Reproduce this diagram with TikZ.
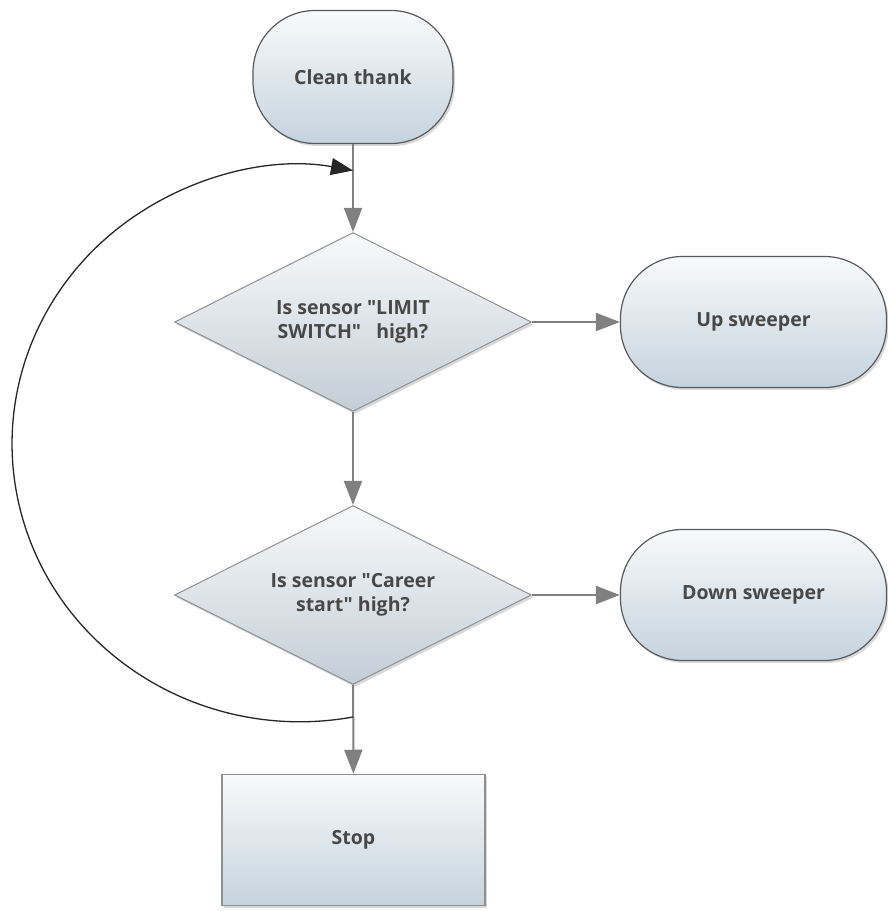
\documentclass[tikz,border=0pt]{standalone}
\usepackage{fontspec}
\setmainfont{Open Sans}[Ligatures=TeXOff]
\usetikzlibrary{positioning,arrows.meta,shapes.geometric,shadows}
\definecolor{flowGrey}{HTML}{808080}
\definecolor{labelGrey}{HTML}{484848}
\definecolor{termEdge}{HTML}{595959}
\definecolor{shapeEdge}{HTML}{8f8f8f}
\definecolor{paleTop}{HTML}{f8fafb}
\definecolor{steelBottom}{HTML}{c5d3de}
\definecolor{greyBottom}{HTML}{c3cdd6}

\tikzset{
  boxText/.style={font=\bfseries\fontsize{19.5}{24}\selectfont,text=labelGrey,align=center},
  softShadow/.style={drop shadow={shadow xshift=2pt,shadow yshift=-2.5pt,opacity=0.3}},
  termBox/.style={boxText,softShadow,draw=termEdge,line width=1.2pt,rounded corners=62pt,
    top color=paleTop,bottom color=steelBottom,minimum width=200pt,minimum height=133pt},
  sideBox/.style={termBox,minimum width=266pt,minimum height=131pt},
  decisionBox/.style={boxText,softShadow,diamond,aspect=2,draw=shapeEdge,line width=1pt,inner sep=0pt,
    top color=paleTop,bottom color=greyBottom,minimum width=357pt,minimum height=179pt},
  stopBox/.style={boxText,softShadow,draw=shapeEdge,line width=1.5pt,
    top color=paleTop,bottom color=steelBottom,minimum width=263pt,minimum height=131pt},
  flowArrow/.style={draw=flowGrey,line width=2pt,-{Triangle[length=24pt,width=18pt]}},
  loopArrow/.style={draw=black!85,line width=1.3pt,-{Triangle[length=22pt,width=17pt]}}
}

\begin{document}
\begin{tikzpicture}[x=1pt,y=1pt]
\useasboundingbox (0,0) rectangle (887,911);

% shapes
\node[termBox] (clean) at (353,834) {Clean thank};
\node[decisionBox] (limit) at (353,589) {Is sensor "LIMIT\\SWITCH"~~ high?};
\node[sideBox] (up) at (753.5,589) {Up sweeper};
\node[decisionBox] (career) at (353,316) {Is sensor "Career\\start" high?};
\node[sideBox] (down) at (753.5,316) {Down sweeper};
\node[stopBox] (stop) at (353.5,71) {Stop};

% connectors
\draw[flowArrow] (clean) -- (limit);
\draw[flowArrow] (limit) -- (up);
\draw[flowArrow] (limit) -- (career);
\draw[flowArrow] (career) -- (down);
\draw[flowArrow] (career) -- (stop);

% loop back to the first test
\coordinate (loopStart) at (353,194);
\draw[loopArrow] (loopStart) arc[start angle=-79.4,end angle=-280.6,x radius=288,y radius=278];
\end{tikzpicture}
\end{document}
